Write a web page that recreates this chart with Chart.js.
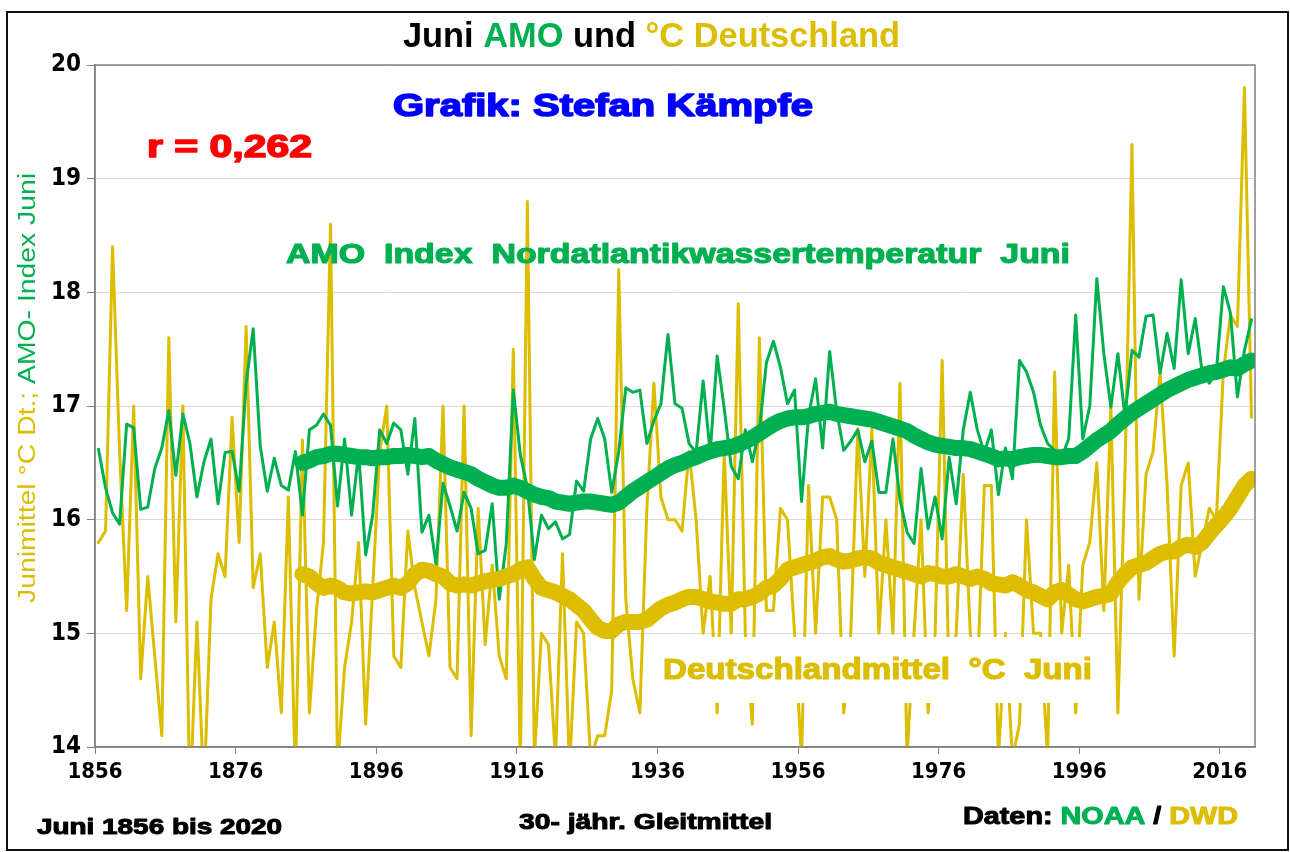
<!DOCTYPE html>
<html lang="de">
<head>
  <meta charset="UTF-8">
  <title>Juni AMO und °C Deutschland</title>
  <script src="https://cdn.jsdelivr.net/npm/chart.js"></script>
  <style>
    html, body { margin: 0; padding: 0; background: #fff; }
    #wrap { width: 1290px; height: 852px; }
  </style>
</head>
<body>
  <div id="wrap"><canvas id="chart" width="1290" height="852"></canvas></div>

  <script>
    // June values 1856..2020
    const years = Array.from({ length: 165 }, (_, i) => 1856 + i);

    // Deutschland June mean (°C)
    const tempDe = [
      15.8, 15.9, 18.4, 16.6, 15.2, 17.0, 14.6, 15.5, 14.8, 14.1,
      17.6, 15.1, 17.0, 13.5, 15.1, 13.6, 15.3, 15.7, 15.5, 16.9,
      15.8, 17.7, 15.4, 15.7, 14.7, 15.1, 14.3, 16.2, 13.7, 16.7,
      14.3, 15.2, 15.8, 18.6, 13.8, 14.7, 15.1, 15.8, 14.2, 15.4,
      16.6, 17.0, 14.8, 14.7, 15.9, 15.4, 15.1, 14.8, 15.3, 17.0,
      14.7, 14.6, 17.0, 14.1, 16.1, 14.9, 15.6, 14.8, 14.6, 17.5,
      13.8, 18.8, 13.9, 15.0, 14.9, 13.9, 15.7, 13.8, 15.1, 15.0,
      13.9, 14.1, 14.1, 14.5, 18.2, 15.3, 14.6, 14.3, 16.1, 17.2,
      16.2, 16.0, 16.0, 15.9, 16.6, 16.0, 15.0, 15.5, 14.3, 16.6,
      15.0, 17.9, 15.0, 14.2, 17.6, 15.2, 15.2, 16.1, 16.0, 15.0,
      13.9, 16.3, 15.0, 16.2, 16.2, 16.0, 14.3, 15.0, 16.8, 15.5,
      16.8, 15.0, 16.0, 15.0, 17.2, 13.9, 15.0, 16.0, 14.3, 15.0,
      17.4, 14.5, 15.0, 16.4, 15.0, 14.6, 16.3, 16.3, 13.9, 15.0,
      13.9, 14.2, 16.0, 15.0, 15.0, 13.9, 17.3, 15.0, 15.6, 14.3,
      15.6, 15.8, 16.5, 15.2, 17.0, 14.3, 16.4, 19.3, 15.3, 16.4,
      16.6, 17.3, 16.3, 14.8, 16.3, 16.5, 15.5, 15.8, 16.1, 16.0,
      17.3, 17.8, 17.7, 19.8, 16.9
    ];

    // AMO index, plotted on the same axis
    const amo = [
      16.62, 16.28, 16.06, 15.96, 16.84, 16.81, 16.09, 16.11, 16.45, 16.63,
      16.96, 16.39, 16.93, 16.67, 16.20, 16.51, 16.71, 16.14, 16.59, 16.60,
      16.25, 17.20, 17.68, 16.65, 16.25, 16.54, 16.30, 16.26, 16.60, 16.04,
      16.79, 16.83, 16.93, 16.83, 16.12, 16.71, 16.04, 16.59, 15.69, 16.04,
      16.79, 16.67, 16.85, 16.79, 16.40, 16.89, 15.89, 16.04, 15.61, 16.32,
      16.12, 15.90, 16.24, 16.10, 15.70, 15.73, 16.14, 15.30, 15.79, 17.14,
      16.57, 16.28, 15.65, 16.04, 15.92, 15.98, 15.83, 15.87, 16.34, 16.25,
      16.71, 16.89, 16.71, 16.24, 16.60, 17.16, 17.12, 17.14, 16.67, 16.87,
      17.02, 17.63, 17.02, 16.98, 16.67, 16.59, 17.22, 16.59, 17.44, 16.98,
      16.47, 16.36, 16.79, 16.51, 16.79, 17.38, 17.57, 17.34, 17.02, 17.14,
      16.16, 16.91, 17.24, 16.63, 17.48, 16.95, 16.61, 16.69, 16.79, 16.51,
      16.69, 16.24, 16.24, 16.71, 16.18, 15.89, 15.79, 16.45, 15.92, 16.20,
      15.83, 16.55, 16.14, 16.79, 17.12, 16.79, 16.59, 16.79, 16.22, 16.63,
      16.36, 17.40, 17.30, 17.12, 16.83, 16.67, 16.61, 16.55, 16.71, 17.80,
      16.71, 17.00, 18.12, 17.46, 16.99, 17.46, 16.91, 17.49, 17.43, 17.79,
      17.80, 17.29, 17.64, 17.33, 18.11, 17.46, 17.77, 17.29, 17.20, 17.30,
      18.05, 17.82, 17.08, 17.49, 17.76
    ];

    // 30-year running means, first value 1885
    const maStart = 1885;
    const maAmo = [
      16.50, 16.52, 16.55, 16.56, 16.58, 16.58, 16.57, 16.56, 16.55, 16.55,
      16.54, 16.55, 16.55, 16.56, 16.56, 16.57, 16.56, 16.55, 16.56, 16.52,
      16.49, 16.46, 16.44, 16.42, 16.40, 16.36, 16.33, 16.30, 16.28, 16.28,
      16.30, 16.28, 16.25, 16.22, 16.20, 16.19, 16.16, 16.15, 16.14, 16.15,
      16.16, 16.16, 16.15, 16.14, 16.13, 16.15, 16.20, 16.25, 16.29, 16.33,
      16.37, 16.41, 16.45, 16.48, 16.50, 16.53, 16.55, 16.58, 16.60, 16.62,
      16.63, 16.64, 16.66, 16.69, 16.72, 16.76, 16.80, 16.84, 16.87, 16.89,
      16.90, 16.90, 16.91, 16.93, 16.94, 16.95, 16.93, 16.92, 16.91, 16.90,
      16.89, 16.88, 16.86, 16.84, 16.82, 16.80, 16.78, 16.74, 16.71, 16.68,
      16.66, 16.65, 16.64, 16.63, 16.63, 16.62, 16.60, 16.58, 16.56, 16.53,
      16.54, 16.53, 16.55, 16.56, 16.57, 16.57, 16.56, 16.55, 16.55, 16.56,
      16.56, 16.60, 16.65, 16.70, 16.74, 16.78, 16.84, 16.89, 16.94, 16.98,
      17.02, 17.06, 17.10, 17.14, 17.17, 17.20, 17.23, 17.25, 17.27, 17.29,
      17.30, 17.32, 17.34, 17.33, 17.37, 17.40
    ];
    const maTemp = [
      15.52, 15.50, 15.44, 15.40, 15.42, 15.40, 15.36, 15.35, 15.36, 15.37,
      15.36, 15.38, 15.40, 15.42, 15.40, 15.44, 15.52, 15.56, 15.55, 15.52,
      15.50, 15.44, 15.42, 15.43, 15.42, 15.44, 15.46, 15.47, 15.48, 15.50,
      15.52, 15.56, 15.58, 15.48, 15.40, 15.38, 15.36, 15.33, 15.30, 15.25,
      15.20, 15.12, 15.05, 15.02, 15.02, 15.08, 15.10, 15.10, 15.10, 15.12,
      15.17, 15.22, 15.25, 15.27, 15.30, 15.32, 15.32, 15.30, 15.28, 15.27,
      15.26, 15.26, 15.30, 15.30, 15.32, 15.35, 15.40, 15.42, 15.48, 15.56,
      15.58, 15.60, 15.62, 15.64, 15.67, 15.68, 15.65, 15.63, 15.64, 15.66,
      15.67, 15.66, 15.62, 15.60, 15.58, 15.56, 15.54, 15.52, 15.50, 15.53,
      15.52, 15.50, 15.50, 15.52, 15.50, 15.48, 15.50, 15.48, 15.44, 15.43,
      15.42, 15.45, 15.42, 15.38, 15.36, 15.33, 15.30, 15.36, 15.38, 15.34,
      15.30, 15.28, 15.30, 15.32, 15.33, 15.35, 15.45, 15.52, 15.58, 15.60,
      15.62, 15.66, 15.70, 15.72, 15.72, 15.76, 15.78, 15.76, 15.80, 15.88,
      15.95, 16.02, 16.10, 16.20, 16.30, 16.36
    ];

    // x tick marks sit on the category boundaries, labelled with the year after
    const xTickYears = [1856, 1876, 1896, 1916, 1936, 1956, 1976, 1996, 2016];
    const yTicks = [14, 15, 16, 17, 18, 19, 20];

    const GREEN = '#00b050';
    const YELLOW = '#dcbd00';
    const FONT = '"Liberation Sans", Arial, sans-serif';
    const NARROW = '"Liberation Sans Narrow", "Arial Narrow", "DejaVu Sans Condensed", "Liberation Sans", sans-serif';

    const pts = (vals, start) => vals.map((v, i) => ({ x: start + i, y: v }));

    // text squeezed/stretched to a given width, several colours in a row
    function drawFit(ctx, segs, left, right, cy, font, heavy) {
      ctx.save();
      ctx.font = font;
      const widths = segs.map(s => ctx.measureText(s[0]).width);
      const total = widths.reduce((a, b) => a + b, 0);
      ctx.translate(left, cy);
      ctx.scale((right - left) / total, 1);
      ctx.textBaseline = 'middle';
      ctx.textAlign = 'left';
      ctx.lineJoin = 'round';
      let x = 0;
      segs.forEach((s, i) => {
        ctx.fillStyle = s[1];
        ctx.fillText(s[0], x, 0);
        if (heavy) {
          ctx.strokeStyle = s[1];
          ctx.lineWidth = heavy;
          ctx.strokeText(s[0], x, 0);
        }
        x += widths[i];
      });
      ctx.restore();
    }

    const decorations = {
      id: 'decorations',
      beforeDraw(chart) {
        const ctx = chart.ctx;
        ctx.save();
        ctx.fillStyle = '#fff';
        ctx.fillRect(0, 0, chart.width, chart.height);
        ctx.restore();
      },
      afterDatasetsDraw(chart) {
        const ctx = chart.ctx;
        const a = chart.chartArea;
        ctx.save();
        // label box hides the lines behind it
        ctx.fillStyle = '#fff';
        ctx.fillRect(655, 637, 445, 66);
        // plot frame
        ctx.strokeStyle = '#808080';
        ctx.lineWidth = 1.5;
        ctx.strokeRect(a.left, a.top, a.right - a.left, a.bottom - a.top);
        ctx.restore();
      },
      afterDraw(chart) {
        const ctx = chart.ctx;
        ctx.save();
        // outer frame
        ctx.strokeStyle = '#111';
        ctx.lineWidth = 2;
        ctx.strokeRect(7, 12, 1281, 838);

        drawFit(ctx, [['Juni ', '#000'], ['AMO', GREEN], [' und ', '#000'], ['°C Deutschland', YELLOW]],
          403, 900, 37, 'bold 35px ' + FONT);
        drawFit(ctx, [['Grafik: Stefan Kämpfe', '#0000ff']], 393, 813, 107, 'bold 32px ' + FONT, 1.6);
        drawFit(ctx, [['r = 0,262', '#ff0000']], 147, 312, 148, 'bold 32px ' + FONT, 1.6);
        drawFit(ctx, [['AMO  Index  Nordatlantikwassertemperatur  Juni', GREEN]], 286, 1070, 255, 'bold 28px ' + FONT, 1.2);
        drawFit(ctx, [['Deutschlandmittel  °C  Juni', YELLOW]], 663, 1092, 671, 'bold 29px ' + FONT, 1.2);

        drawFit(ctx, [['Juni 1856 bis 2020', '#000']], 37, 282, 828, 'bold 22px ' + FONT, 1);
        drawFit(ctx, [['30- jähr. Gleitmittel', '#000']], 519, 772, 823, 'bold 22px ' + FONT, 1);
        drawFit(ctx, [['Daten: ', '#000'], ['NOAA', GREEN], [' / ', '#000'], ['DWD', YELLOW]],
          963, 1238, 817, 'bold 24px ' + FONT, 1);

        // vertical axis title
        ctx.translate(29, 0);
        ctx.rotate(-Math.PI / 2);
        drawFit(ctx, [['Junimittel °C Dt.; ', YELLOW], ['AMO- Index Juni', GREEN]], -603, -173, 0, '23px ' + FONT);
        ctx.restore();
      }
    };

    new Chart(document.getElementById('chart'), {
      type: 'line',
      data: {
        datasets: [
          { label: 'Gleitmittel °C', data: pts(maTemp, maStart), borderColor: YELLOW, borderWidth: 16 },
          { label: 'Gleitmittel AMO', data: pts(maAmo, maStart), borderColor: GREEN, borderWidth: 16 },
          { label: 'AMO', data: pts(amo, years[0]), borderColor: GREEN, borderWidth: 3 },
          { label: '°C Deutschland', data: pts(tempDe, years[0]), borderColor: YELLOW, borderWidth: 3 }
        ]
      },
      options: {
        responsive: false,
        animation: false,
        devicePixelRatio: 1,
        layout: { padding: { left: 0, top: 65, right: 35, bottom: 0 } },
        elements: {
          point: { radius: 0, hoverRadius: 0 },
          line: { tension: 0, borderJoinStyle: 'round', borderCapStyle: 'round', fill: false }
        },
        datasets: { line: { clip: 0 } },
        plugins: { legend: { display: false }, tooltip: { enabled: false } },
        scales: {
          x: {
            type: 'linear',
            min: years[0] - 0.5,
            max: years[years.length - 1] + 0.5,
            afterFit: s => { s.height = 105; },
            afterBuildTicks: s => { s.ticks = xTickYears.map(y => ({ value: y - 0.5 })); },
            border: { display: true, color: '#808080', width: 1.5 },
            grid: { drawOnChartArea: false, tickLength: 7, tickColor: '#808080' },
            ticks: {
              autoSkip: false, maxRotation: 0, padding: 5, color: '#000',
              font: { family: NARROW, size: 22, weight: 'bold' },
              callback: v => String(Math.round(v + 0.5))
            }
          },
          y: {
            min: 14,
            max: 20,
            afterFit: s => { s.width = 95; },
            afterBuildTicks: s => { s.ticks = yTicks.map(v => ({ value: v })); },
            border: { display: true, color: '#808080', width: 1.5 },
            grid: { color: '#d9d9d9', lineWidth: 1, tickLength: 8, tickColor: '#808080' },
            ticks: {
              padding: 6, color: '#000',
              font: { family: NARROW, size: 24, weight: 'bold' }
            }
          }
        }
      },
      plugins: [decorations]
    });
  </script>
</body>
</html>
